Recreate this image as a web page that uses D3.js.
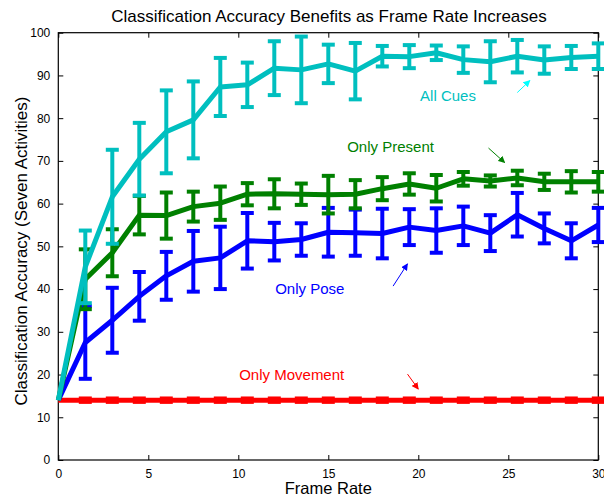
<!DOCTYPE html>
<html>
<head>
<meta charset="utf-8">
<script src="https://cdn.jsdelivr.net/npm/d3@7"></script>
<style>
  body { margin: 0; background: #fff; }
  svg { display: block; font-family: "Liberation Sans", Arial, Helvetica, sans-serif; }
</style>
</head>
<body>
<svg id="chart" width="604" height="500"></svg>
<script>
// frame rates sampled (every 1.5 fps)
const frameRates = [0, 1.5, 3, 4.5, 6, 7.5, 9, 10.5, 12, 13.5, 15, 16.5, 18, 19.5, 21, 22.5, 24, 25.5, 27, 28.5, 30];

const allCues     = [14, 45.2, 61.6, 70.4, 76.8, 79.6, 87.3, 87.8, 91.7, 91.3, 92.7, 91.0, 94.5, 94.4, 95.3, 93.7, 93.2, 94.5, 93.6, 94.2, 94.5];
const allCuesErr  = [0, 8.5, 11, 8.5, 9.7, 9.0, 6.8, 5.2, 6.3, 7.8, 4.5, 6.6, 2.4, 2.7, 1.7, 3.1, 4.8, 3.8, 3.2, 2.7, 3.0];

const onlyPresent    = [14, 42.3, 48.5, 57.3, 57.2, 59.3, 60.1, 62.2, 62.3, 62.2, 62.1, 62.2, 63.5, 64.6, 63.6, 65.8, 65.3, 66.0, 65.1, 65.1, 65.1];
const onlyPresentErr = [0, 7.0, 5.5, 4.5, 5.4, 3.5, 3.9, 2.6, 3.4, 2.5, 4.4, 3.3, 2.7, 2.5, 3.1, 1.6, 1.3, 1.7, 1.9, 2.5, 2.3];

const onlyPose    = [14, 27.5, 32.7, 38.3, 43.1, 46.5, 47.3, 51.3, 51.1, 51.6, 53.3, 53.2, 53.0, 54.5, 53.7, 54.8, 53.1, 57.4, 54.2, 51.3, 55.0];
const onlyPoseErr = [0, 8.5, 7.6, 5.7, 5.6, 7.1, 7.3, 6.5, 4.4, 3.8, 5.7, 5.4, 5.8, 4.2, 5.2, 4.5, 4.2, 5.1, 3.5, 4.1, 4.0];

const onlyMovement    = [14, 14, 14, 14, 14, 14, 14, 14, 14, 14, 14, 14, 14, 14, 14, 14, 14, 14, 14, 14, 14];
const onlyMovementErr = [0, 0.4, 0.4, 0.4, 0.4, 0.4, 0.4, 0.4, 0.4, 0.4, 0.4, 0.4, 0.4, 0.4, 0.4, 0.4, 0.4, 0.4, 0.4, 0.4, 0.4];

const xTicks = [0, 5, 10, 15, 20, 25, 30];
const yTicks = [0, 10, 20, 30, 40, 50, 60, 70, 80, 90, 100];

(() => {
  const series = [
    { name: 'Only Movement', values: onlyMovement, err: onlyMovementErr, color: '#ff0000' },
    { name: 'Only Pose', values: onlyPose, err: onlyPoseErr, color: '#0000ff' },
    { name: 'Only Present', values: onlyPresent, err: onlyPresentErr, color: '#008000' },
    { name: 'All Cues', values: allCues, err: allCuesErr, color: '#00bfbf' }
  ];

  // text labels with their little arrows (in data units)
  const labels = [
    { text: 'All Cues', x: 20.1, y: 83.9, color: '#00bfbf', arrow: [[25.5, 86.0], [26.2, 88.8]], arrowColor: '#00ffff' },
    { text: 'Only Present', x: 16.05, y: 72, color: '#008000', arrow: [[23.9, 73.0], [24.8, 69.6]], arrowColor: '#008000' },
    { text: 'Only Pose', x: 12.05, y: 38.9, color: '#0000ff', arrow: [[18.6, 40.7], [19.4, 45.9]], arrowColor: '#0000ff' },
    { text: 'Only Movement', x: 10.05, y: 18.7, color: '#ff0000', arrow: [[19.4, 20.1], [20.0, 16.6]], arrowColor: '#ff0000' }
  ];

  const svg = d3.select('#chart');
  const left = 58.3, right = 598.3, plotTop = 32.7, plotBottom = 460;

  const x = d3.scaleLinear().domain([0, 30]).range([left, right]);
  const y = d3.scaleLinear().domain([0, 100]).range([plotBottom, plotTop]);

  const defs = svg.append('defs');
  labels.forEach((l, i) => {
    defs.append('marker')
      .attr('id', 'arr' + i)
      .attr('viewBox', '0 0 10 10')
      .attr('refX', 9).attr('refY', 5)
      .attr('markerWidth', 7).attr('markerHeight', 7)
      .attr('markerUnits', 'userSpaceOnUse')
      .attr('orient', 'auto')
      .append('path')
      .attr('d', 'M0,0 L10,5 L0,10 z')
      .attr('fill', l.arrowColor);
  });

  // axes box
  svg.append('rect')
    .attr('x', left).attr('y', plotTop)
    .attr('width', right - left).attr('height', plotBottom - plotTop)
    .attr('fill', 'none').attr('stroke', '#000').attr('stroke-width', 1.2);

  // ticks pointing inward on all four sides
  const tickLen = 5;
  const xAxisB = d3.axisBottom(x).tickValues(xTicks).tickSizeInner(-tickLen).tickSizeOuter(0).tickPadding(9);
  const xAxisT = d3.axisTop(x).tickValues(xTicks).tickSizeInner(-tickLen).tickSizeOuter(0).tickFormat('');
  const yAxisL = d3.axisLeft(y).tickValues(yTicks).tickSizeInner(-tickLen).tickSizeOuter(0).tickPadding(8);
  const yAxisR = d3.axisRight(y).tickValues(yTicks).tickSizeInner(-tickLen).tickSizeOuter(0).tickFormat('');

  function styleAxis(g) {
    g.select('.domain').remove();
    g.selectAll('line').attr('stroke', '#000').attr('stroke-width', 1);
    g.selectAll('text').attr('font-size', 12).attr('fill', '#000')
      .attr('font-family', '"Liberation Sans", Arial, Helvetica, sans-serif');
  }
  svg.append('g').attr('transform', `translate(0,${plotBottom})`).call(xAxisB).call(styleAxis);
  svg.append('g').attr('transform', `translate(0,${plotTop})`).call(xAxisT).call(styleAxis);
  svg.append('g').attr('transform', `translate(${left},0)`).call(yAxisL).call(styleAxis);
  svg.append('g').attr('transform', `translate(${right},0)`).call(yAxisR).call(styleAxis);

  // series lines + error bars
  const line = d3.line().x((d, i) => x(frameRates[i])).y(d => y(d));
  const capHalf = 6.5;

  series.forEach(s => {
    const g = svg.append('g');
    g.append('path')
      .datum(s.values)
      .attr('d', line)
      .attr('fill', 'none')
      .attr('stroke', s.color)
      .attr('stroke-width', 5)
      .attr('stroke-linejoin', 'round');

    const pts = s.values.map((v, i) => ({ fr: frameRates[i], v, e: s.err[i] })).filter(p => p.e > 0);
    const bars = g.selectAll('g.eb').data(pts).join('g').attr('class', 'eb');
    bars.append('line')
      .attr('x1', d => x(d.fr)).attr('x2', d => x(d.fr))
      .attr('y1', d => y(d.v - d.e)).attr('y2', d => y(d.v + d.e))
      .attr('stroke', s.color).attr('stroke-width', 4);
    [1, -1].forEach(sign => {
      bars.append('line')
        .attr('x1', d => x(d.fr) - capHalf).attr('x2', d => x(d.fr) + capHalf)
        .attr('y1', d => y(d.v + sign * d.e)).attr('y2', d => y(d.v + sign * d.e))
        .attr('stroke', s.color).attr('stroke-width', 4);
    });
  });

  // annotations
  labels.forEach((l, i) => {
    svg.append('text')
      .attr('x', x(l.x)).attr('y', y(l.y))
      .attr('fill', l.color)
      .attr('font-size', 15)
      .text(l.text);
    svg.append('line')
      .attr('x1', x(l.arrow[0][0])).attr('y1', y(l.arrow[0][1]))
      .attr('x2', x(l.arrow[1][0])).attr('y2', y(l.arrow[1][1]))
      .attr('stroke', l.arrowColor).attr('stroke-width', 1)
      .attr('marker-end', `url(#arr${i})`);
  });

  // title and axis labels
  svg.append('text')
    .attr('x', 329).attr('y', 22)
    .attr('text-anchor', 'middle')
    .attr('font-size', 17)
    .text('Classification Accuracy Benefits as Frame Rate Increases');

  svg.append('text')
    .attr('x', (left + right) / 2).attr('y', 494)
    .attr('text-anchor', 'middle')
    .attr('font-size', 16.5)
    .text('Frame Rate');

  svg.append('text')
    .attr('transform', `translate(27,251) rotate(-90)`)
    .attr('text-anchor', 'middle')
    .attr('font-size', 17)
    .text('Classification Accuracy (Seven Activities)');
})();
</script>
</body>
</html>
